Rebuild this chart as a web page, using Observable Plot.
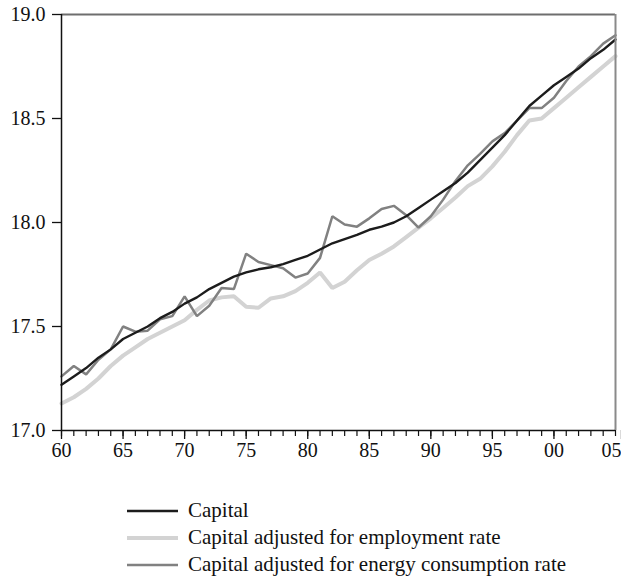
<!DOCTYPE html>
<html><head><meta charset="utf-8">
<script src="https://cdn.jsdelivr.net/npm/d3@7"></script>
<script src="https://cdn.jsdelivr.net/npm/@observablehq/plot@0.6"></script>
<style>
body{margin:0;background:#fff;font-family:"Liberation Serif","Times New Roman",serif;}
#wrap{position:relative;width:621px;height:576px;background:#fff;overflow:hidden;}
#chart{position:absolute;left:0;top:0;}
#legend{position:absolute;left:127px;top:497px;font-size:21px;color:#111;}
.row{display:flex;align-items:center;height:27px;white-space:nowrap;}
.sw{width:51px;margin-right:10px;}
</style></head><body><div id="wrap"><div id="chart"></div><div id="legend"></div></div>
<script>
const years = [1960,1961,1962,1963,1964,1965,1966,1967,1968,1969,
  1970,1971,1972,1973,1974,1975,1976,1977,1978,1979,
  1980,1981,1982,1983,1984,1985,1986,1987,1988,1989,
  1990,1991,1992,1993,1994,1995,1996,1997,1998,1999,
  2000,2001,2002,2003,2004,2005];
const capital = [17.22,17.26,17.30,17.35,17.39,17.44,17.47,17.50,17.54,17.57,
  17.61,17.64,17.68,17.71,17.74,17.76,17.775,17.785,17.80,17.82,
  17.84,17.87,17.90,17.92,17.94,17.965,17.98,18.00,18.03,18.07,
  18.11,18.15,18.19,18.24,18.30,18.36,18.42,18.49,18.56,18.61,
  18.66,18.70,18.74,18.79,18.83,18.88];
const employment = [17.13,17.16,17.20,17.25,17.31,17.36,17.40,17.44,17.47,17.50,
  17.53,17.58,17.625,17.64,17.645,17.595,17.59,17.635,17.645,17.67,
  17.71,17.76,17.685,17.715,17.77,17.82,17.85,17.885,17.93,17.975,
  18.02,18.07,18.12,18.175,18.21,18.27,18.34,18.42,18.49,18.50,
  18.55,18.60,18.65,18.70,18.75,18.80];
const energy = [17.26,17.31,17.27,17.34,17.39,17.50,17.475,17.48,17.535,17.55,
  17.645,17.55,17.60,17.685,17.68,17.85,17.81,17.795,17.78,17.735,
  17.755,17.83,18.03,17.99,17.98,18.02,18.065,18.08,18.035,17.975,
  18.03,18.11,18.20,18.275,18.33,18.39,18.43,18.49,18.55,18.55,
  18.60,18.68,18.75,18.80,18.86,18.90];
const seriesNames = ["Capital","Capital adjusted for employment rate","Capital adjusted for energy consumption rate"];
const seriesColors = ["#1c1c1c","#d3d3d3","#818181"];
const seriesWidths = [2.4,4,2.5];
const yTicks = [17.0,17.5,18.0,18.5,19.0];
const majorYears = [1960,1965,1970,1975,1980,1985,1990,1995,2000,2005];
const xDomain = [1960,2005];
const yDomain = [17,19];

const seriesValues = [capital, employment, energy];
const rows = [];
seriesValues.forEach((vals,i)=>vals.forEach((v,j)=>rows.push({series:seriesNames[i], year:years[j], value:v})));
const drawOrder = [1,2,0];
const yearLabel = d=>String(d%100).padStart(2,"0");

const chart = Plot.plot({
  width:621, height:465,
  marginTop:14, marginBottom:35, marginLeft:61, marginRight:6,
  x:{domain:xDomain},
  y:{domain:yDomain},
  style:{fontFamily:"'Liberation Serif','Times New Roman',serif", fontSize:"20px", color:"#111", background:"#fff"},
  marks:[
    Plot.axisY(yTicks,{tickSize:9, tickPadding:7, tickFormat:d=>d.toFixed(1), label:null, strokeWidth:1.3}),
    Plot.axisX(years,{tickSize:6, tickFormat:()=>"", label:null, strokeWidth:1.2}),
    Plot.axisX(majorYears.slice(0,-1),{tickSize:9, tickPadding:3, tickFormat:yearLabel, label:null, strokeWidth:1.3}),
    Plot.axisX(majorYears.slice(-1),{tickSize:9, tickPadding:3, tickFormat:yearLabel, label:null, strokeWidth:1.3, textAnchor:"end", dx:6}),
    ...drawOrder.map(i=>Plot.line(rows.filter(r=>r.series===seriesNames[i]),{x:"year", y:"value", stroke:seriesColors[i], strokeWidth:seriesWidths[i], strokeLinejoin:"miter"})),
    Plot.ruleY([yDomain[1]],{stroke:"#6e6e6e", strokeWidth:2}),
    Plot.ruleX([xDomain[1]],{stroke:"#8a8a8a", strokeWidth:2}),
    Plot.ruleX([xDomain[0]],{stroke:"#111", strokeWidth:1.5}),
    Plot.ruleY([yDomain[0]],{stroke:"#111", strokeWidth:1.5})
  ]
});
document.getElementById("chart").appendChild(chart);

const legend = document.getElementById("legend");
seriesNames.forEach((name,i)=>{
  const row = document.createElement("div");
  row.className = "row";
  row.innerHTML = `<svg class="sw" width="51" height="8"><line x1="0" x2="51" y1="4" y2="4" stroke="${seriesColors[i]}" stroke-width="${seriesWidths[i]}"/></svg><span>${name}</span>`;
  legend.appendChild(row);
});
</script></body></html>
